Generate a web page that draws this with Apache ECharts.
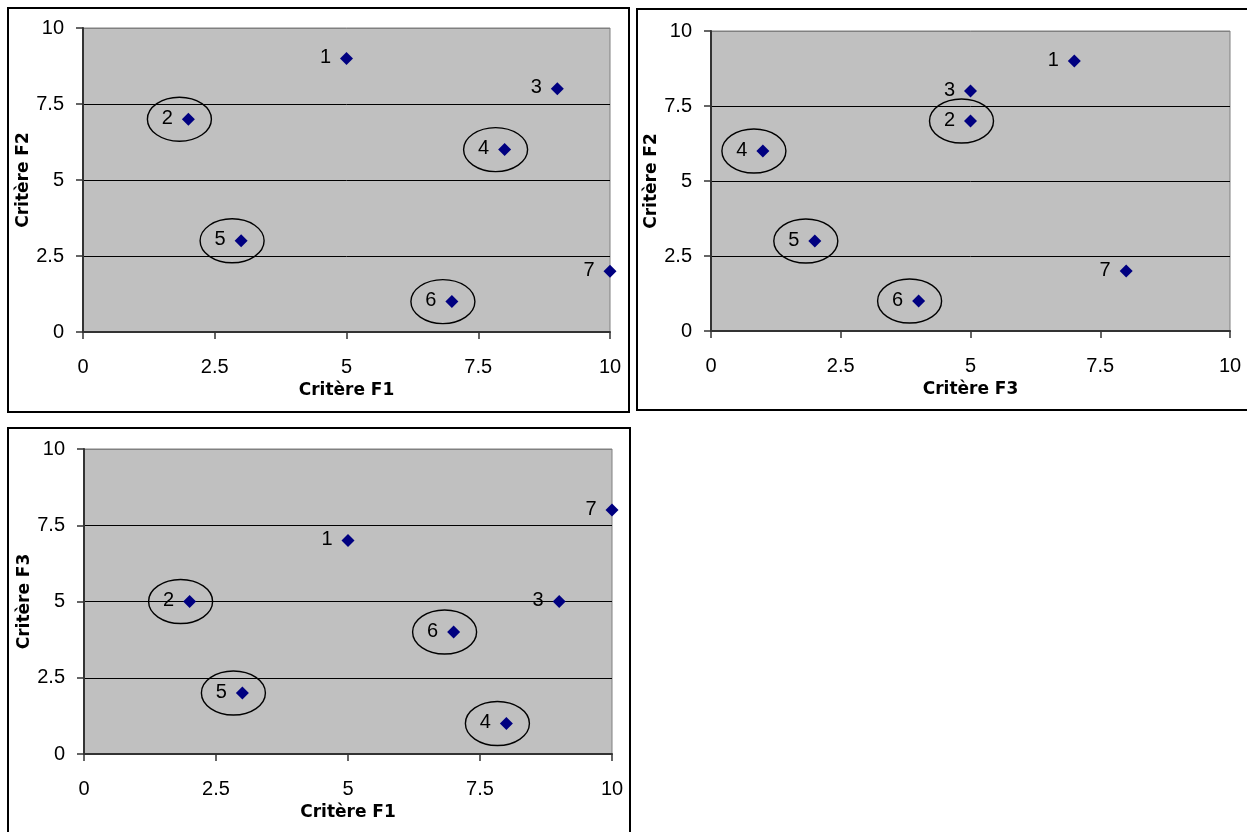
<!DOCTYPE html>
<html>
<head>
<meta charset="utf-8">
<script src="https://cdn.jsdelivr.net/npm/echarts@6/dist/echarts.min.js"></script>
<style>
html,body{margin:0;padding:0;background:#fff;}
#c{width:1247px;height:832px;}
</style>
</head>
<body>
<div id="c"></div>
<script>
// ---- data ----
const pointNames = ['1', '2', '3', '4', '5', '6', '7'];
const critF1 = [5, 2, 9, 8, 3, 7, 10];
const critF2 = [9, 7, 8, 6, 3, 1, 2];
const critF3 = [7, 5, 5, 1, 2, 4, 8];
const circled = ['2', '4', '5', '6'];
const axisMin = 0;
const axisMax = 10;
const axisStep = 2.5;

const panels = [
  { xs: critF1, ys: critF2, xName: 'Critère F1', yName: 'Critère F2' },
  { xs: critF3, ys: critF2, xName: 'Critère F3', yName: 'Critère F2' },
  { xs: critF1, ys: critF3, xName: 'Critère F1', yName: 'Critère F3' }
];

// ---- layout ----
const grids = [
  { left: 83, top: 28, width: 527, height: 304 },
  { left: 711, top: 31, width: 519, height: 300 },
  { left: 84, top: 449, width: 528, height: 305 }
];
const frames = [
  { x: 8, y: 8, width: 621, height: 404 },
  { x: 637, y: 9, width: 630, height: 401 },
  { x: 8, y: 428, width: 622, height: 420 }
];

const FONT = '"Liberation Sans", Arial, sans-serif';
const TITLE_FONT = '"DejaVu Sans", "Liberation Sans", sans-serif';
const chart = echarts.init(document.getElementById('c'), null, { renderer: 'canvas' });

const option = {
  animation: false,
  backgroundColor: '#ffffff',
  graphic: frames.map(f => ({
    type: 'rect', z: 0, silent: true,
    shape: { x: f.x, y: f.y, width: f.width, height: f.height },
    style: { fill: 'none', stroke: '#000', lineWidth: 2 }
  })),
  grid: grids.map(g => ({
    left: g.left, top: g.top, width: g.width, height: g.height,
    show: true, backgroundColor: '#c0c0c0', borderColor: '#808080', borderWidth: 1,
    containLabel: false
  })),
  xAxis: panels.map((p, i) => ({
    type: 'value', gridIndex: i, min: axisMin, max: axisMax, interval: axisStep,
    name: p.xName, nameLocation: 'middle', nameGap: 50,
    nameTextStyle: { fontFamily: TITLE_FONT, fontSize: 17, fontWeight: 'bold', color: '#000' },
    axisLine: { show: true, onZero: false, lineStyle: { color: '#333', width: 2 } },
    axisTick: { show: true, length: 7, lineStyle: { color: '#333', width: 1.5 } },
    axisLabel: { fontFamily: FONT, fontSize: 20, color: '#000', margin: 25 },
    splitLine: { show: false }
  })),
  yAxis: panels.map((p, i) => ({
    type: 'value', gridIndex: i, min: axisMin, max: axisMax, interval: axisStep,
    name: p.yName, nameLocation: 'middle', nameGap: 48, nameRotate: 90,
    nameTextStyle: { fontFamily: TITLE_FONT, fontSize: 17, fontWeight: 'bold', color: '#000' },
    axisLine: { show: true, onZero: false, lineStyle: { color: '#333', width: 2 } },
    axisTick: { show: true, length: 7, lineStyle: { color: '#333', width: 1.5 } },
    axisLabel: { fontFamily: FONT, fontSize: 20, color: '#000', margin: 19 },
    splitLine: { show: true, lineStyle: { color: ['#000', '#000', '#000', '#000', '#808080'], width: 1 } }
  })),
  series: []
};

panels.forEach((p, i) => {
  option.series.push({
    type: 'custom', xAxisIndex: i, yAxisIndex: i, z: 3, silent: true,
    data: pointNames.map((n, k) => ({ name: n, value: [p.xs[k], p.ys[k]] }))
      .filter(d => circled.indexOf(d.name) >= 0),
    renderItem: function (params, api) {
      const pt = api.coord([api.value(0), api.value(1)]);
      return {
        type: 'ellipse',
        shape: { cx: pt[0] - 9, cy: pt[1], rx: 32, ry: 22 },
        style: { fill: 'none', stroke: '#000', lineWidth: 1.4 }
      };
    }
  });
  option.series.push({
    type: 'scatter', xAxisIndex: i, yAxisIndex: i, z: 4,
    symbol: 'diamond', symbolSize: 13,
    itemStyle: { color: '#000080', opacity: 1 },
    label: {
      show: true, position: 'left', distance: 9,
      formatter: '{b}', fontFamily: FONT, fontSize: 20, color: '#000', offset: [0, -1]
    },
    data: pointNames.map((n, k) => ({ name: n, value: [p.xs[k], p.ys[k]] }))
  });
});

chart.setOption(option);
</script>
</body>
</html>
